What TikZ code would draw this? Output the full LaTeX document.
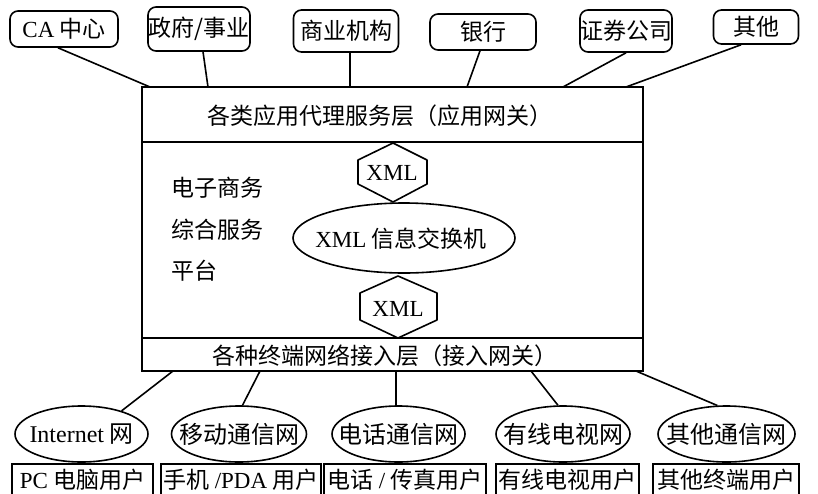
\documentclass[tikz,border=0pt]{standalone}
\usepackage{fontspec}
\setmainfont{Liberation Serif}
\newfontfamily\cjk{Noto Sans CJK SC}
\usetikzlibrary{shapes.geometric}
\begin{document}
\begin{tikzpicture}[x=1pt,y=-1pt,
  every node/.style={font=\cjk\fontsize{23}{25}\selectfont},
  rbox/.style={draw, rounded corners=8pt, line width=1.6pt, inner sep=0pt},
  ubox/.style={draw, line width=1.6pt, inner sep=0pt},
  net/.style={draw, ellipse, line width=1.6pt, inner sep=0pt},
  link/.style={line width=1.6pt},
  txt/.style={inner sep=0pt},
  nettxt/.style={inner sep=0pt, font=\cjk\fontsize{24}{26}\selectfont},
  hexa/.style={line width=1.6pt, line join=round}]
\useasboundingbox (0,0) rectangle (818,493);
\clip (0,0) rectangle (818,493);

% main frame
\node[ubox, line width=2pt, minimum width=501pt, minimum height=284pt] (main) at (392.5,229) {};
\node[ubox, line width=2pt, minimum width=501pt, minimum height=55pt] (appl) at (392.5,114.5) {};
\node[ubox, line width=2pt, minimum width=501pt, minimum height=33pt] (acc) at (392.5,354.5) {};
\node[txt] (applt) at (380,116) {各类应用代理服务层（应用网关）};
\node[txt] (acct) at (385,356) {各种终端网络接入层（接入网关）};

% left text
\node[txt, anchor=west] (l1) at (171,188) {电子商务};
\node[txt, anchor=west] (l2) at (171,230) {综合服务};
\node[txt, anchor=west] (l3) at (171,271) {平台};

% exchange
\node[net, minimum width=222pt, minimum height=70pt] (sw) at (404,238) {};
\node[txt] (swt) at (401,239) {\textrm{XML} 信息交换机};
\node[txt] (x1) at (392,173) {\textrm{XML}};
\draw[hexa, shift={(x1)}] (1,-30) -- (35,-13) -- (35,11) -- (1,29) -- (-34,11) -- (-34,-13) -- cycle;
\node[txt] (x2) at (398,309) {\textrm{XML}};
\draw[hexa, shift={(x2)}] (0,-33) -- (39,-16) -- (39,11) -- (0,29) -- (-38,11) -- (-38,-16) -- cycle;

% top organisations
\node[rbox, minimum width=108pt, minimum height=36pt] (ca) at (64,29) {\textrm{CA} 中心};
\node[rbox, minimum width=102pt, minimum height=44pt] (gov) at (199,29) {政府/事业};
\node[rbox, minimum width=105pt, minimum height=42pt] (biz) at (346,31) {商业机构};
\node[rbox, minimum width=106pt, minimum height=36pt] (bank) at (483,32) {银行};
\node[rbox, minimum width=89pt, minimum height=42pt] (sec) at (626,31) {证券公司};
\node[rbox, minimum width=85pt, minimum height=34pt] (oth) at (756,27) {其他};

\coordinate (t1) at (150,87);
\coordinate (t2) at (208,87);
\coordinate (t3) at (350,87);
\coordinate (t4) at (467,87);
\coordinate (t5) at (563,87);
\coordinate (t6) at (626,87);
\draw[link] ([xshift=-6pt]ca.south) -- (t1);
\draw[link] ([xshift=4pt]gov.south) -- (t2);
\draw[link] ([xshift=4pt]biz.south) -- (t3);
\draw[link] ([xshift=-3pt]bank.south) -- (t4);
\draw[link] (sec.south) -- (t5);
\draw[link] ([xshift=-15pt]oth.south) -- (t6);

% networks
\node[net, minimum width=133pt, minimum height=56pt] (n1) at (81.5,434) {};
\node[net, minimum width=135pt, minimum height=56pt] (n2) at (239,434) {};
\node[net, minimum width=133pt, minimum height=56pt] (n3) at (398.5,434) {};
\node[net, minimum width=134pt, minimum height=56pt] (n4) at (563,434) {};
\node[net, minimum width=137pt, minimum height=56pt] (n5) at (726.5,434) {};
\node[nettxt] (n1t) at (n1) {\textrm{Internet} 网};
\node[nettxt] (n2t) at (n2) {移动通信网};
\node[nettxt] (n3t) at (n3) {电话通信网};
\node[nettxt] (n4t) at (n4) {有线电视网};
\node[nettxt] (n5t) at (n5) {其他通信网};

\coordinate (b1) at (173,371);
\coordinate (b2) at (260,371);
\coordinate (b3) at (396,371);
\coordinate (b4) at (531,371);
\coordinate (b5) at (636,371);
\draw[link] (b1) -- (n1.30);
\draw[link] (b2) -- (n2.83);
\draw[link] (b3) -- (b3 |- n3.north);
\draw[link] (b4) -- (n4.100);
\draw[link] (b5) -- (n5.108);

% users
\node[ubox, minimum width=141pt, minimum height=32pt] (u1) at (82.5,480) {\textrm{PC} 电脑用户};
\node[ubox, minimum width=160pt, minimum height=32pt] (u2) at (241,480) {手机 \textrm{/PDA} 用户};
\node[ubox, minimum width=162pt, minimum height=32pt] (u3) at (405,480) {电话 \textrm{/} 传真用户};
\node[ubox, minimum width=143pt, minimum height=32pt] (u4) at (567.5,480) {有线电视用户};
\node[ubox, minimum width=146pt, minimum height=32pt] (u5) at (726,480) {其他终端用户};
\end{tikzpicture}
\end{document}
